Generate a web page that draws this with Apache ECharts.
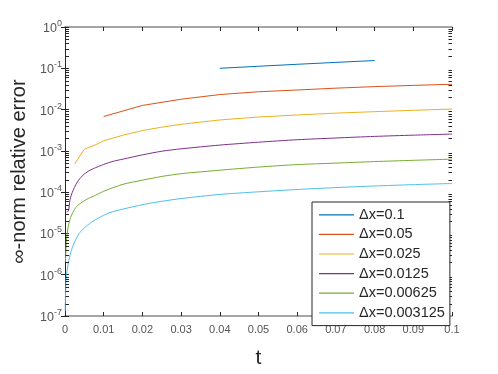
<!DOCTYPE html>
<html style="height: 100%">
<head>
<meta charset="UTF-8">
</head>
<body style="height: 100%; margin: 0; background: #fff">
<div id="container" style="width: 498px; height: 374px"></div>
<script type="text/javascript" src="https://cdn.jsdelivr.net/npm/echarts@6/dist/echarts.min.js"></script>
<script type="text/javascript">
var names = ['\u0394x=0.1', '\u0394x=0.05', '\u0394x=0.025', '\u0394x=0.0125', '\u0394x=0.00625', '\u0394x=0.003125'];
var colors = ['#0072BD', '#D95319', '#EDB120', '#7E2F8E', '#77AC30', '#4DBEEE'];

var t1 = [0.04, 0.05, 0.06, 0.07, 0.08];
var e1 = [0.100, 0.112, 0.125, 0.139, 0.154];

var t2 = [0.01, 0.02, 0.03, 0.04, 0.05, 0.06, 0.07, 0.08, 0.09, 0.1];
var e2 = [0.0068, 0.0126, 0.0178, 0.0231, 0.027, 0.0298, 0.033, 0.036, 0.0385, 0.041];

var t3 = [0.0025, 0.005, 0.0075, 0.01, 0.0125, 0.015, 0.02, 0.025, 0.03, 0.04, 0.05, 0.06, 0.07, 0.08, 0.09, 0.1];
var e3 = [4.8e-4, 1.1e-3, 1.35e-3, 1.75e-3, 2.05e-3, 2.4e-3, 3.1e-3, 3.75e-3, 4.4e-3, 5.6e-3, 6.6e-3, 7.4e-3, 8.2e-3, 8.9e-3, 9.6e-3, 0.0103];

var t4 = [0.0004, 0.0009, 0.0013, 0.0019, 0.0026, 0.0035, 0.0047, 0.006, 0.0073, 0.01, 0.0125, 0.015, 0.02, 0.025, 0.03, 0.04, 0.05, 0.06, 0.07, 0.08, 0.09, 0.1];
var e4 = [3.3e-5, 3.5e-5, 6.6e-5, 1.0e-4, 1.4e-4, 1.95e-4, 2.6e-4, 3.2e-4, 3.7e-4, 4.7e-4, 5.6e-4, 6.3e-4, 8.0e-4, 9.8e-4, 1.12e-3, 1.38e-3, 1.62e-3, 1.86e-3, 2.05e-3, 2.24e-3, 2.4e-3, 2.55e-3];

var t5 = [0.0001, 0.0004, 0.0008, 0.0013, 0.002, 0.003, 0.0045, 0.006, 0.0073, 0.01, 0.015, 0.02, 0.025, 0.03, 0.04, 0.05, 0.06, 0.07, 0.08, 0.09, 0.1];
var e5 = [2.0e-6, 7.4e-6, 1.4e-5, 2.2e-5, 3.2e-5, 4.5e-5, 5.8e-5, 7.0e-5, 7.9e-5, 1.05e-4, 1.55e-4, 1.95e-4, 2.4e-4, 2.8e-4, 3.4e-4, 4.05e-4, 4.65e-4, 5.05e-4, 5.5e-4, 5.9e-4, 6.3e-4];

var t6 = [0.00005, 0.0003, 0.0009, 0.0015, 0.0021, 0.003, 0.0039, 0.0055, 0.0073, 0.0095, 0.0116, 0.016, 0.022, 0.03, 0.04, 0.05, 0.06, 0.07, 0.08, 0.09, 0.1];
var e6 = [1.3e-7, 8.4e-7, 2.0e-6, 3.5e-6, 5.1e-6, 7.8e-6, 1.06e-5, 1.5e-5, 2.0e-5, 2.6e-5, 3.2e-5, 4.1e-5, 5.4e-5, 7.0e-5, 8.8e-5, 1.02e-4, 1.16e-4, 1.29e-4, 1.41e-4, 1.52e-4, 1.62e-4];

var ts = [t1, t2, t3, t4, t5, t6];
var es = [e1, e2, e3, e4, e5, e6];

// log minor ticks 2..9 of every decade
var minorTicks = [];
for (var d = -7; d < 0; d++) {
    for (var k = 2; k <= 9; k++) minorTicks.push([0.05, k * Math.pow(10, d)]);
}

var font = 'Liberation Sans, Arial, sans-serif';
var myChart = echarts.init(document.getElementById('container'));

var series = [];
for (var i = 0; i < names.length; i++) {
    var pts = [];
    for (var j = 0; j < ts[i].length; j++) pts.push([ts[i][j], es[i][j]]);
    series.push({
        name: names[i],
        type: 'line',
        data: pts,
        symbol: 'none',
        smooth: i >= 3 ? 0.25 : false,
        lineStyle: { color: colors[i], width: 1 },
        itemStyle: { color: colors[i] },
        z: 3
    });
}
series.push({
    type: 'custom',
    data: minorTicks,
    silent: true,
    clip: false,
    encode: { x: 0, y: 1 },
    renderItem: function (params, api) {
        var p = api.coord([api.value(0), api.value(1)]);
        var cs = params.coordSys;
        var y = Math.round(p[1]) + 0.5;
        var xl = cs.x + 0.5;
        var xr = cs.x + cs.width;
        return {
            type: 'group',
            children: [
                { type: 'line', shape: { x1: xl, y1: y, x2: xl + 3.5, y2: y }, style: { stroke: '#262626', lineWidth: 1 } },
                { type: 'line', shape: { x1: xr, y1: y, x2: xr - 3.5, y2: y }, style: { stroke: '#262626', lineWidth: 1 } }
            ]
        };
    },
    z: 4
});

var option = {
    animation: false,
    backgroundColor: '#fff',
    grid: { left: 65, top: 27, width: 387, height: 295, containLabel: false },
    legend: {
        data: names,
        orient: 'vertical',
        left: 312,
        top: 202,
        padding: [3, 5, 3, 7],
        itemGap: 0,
        itemWidth: 35,
        itemHeight: 1.2,
        icon: 'rect',
        borderColor: '#262626',
        borderWidth: 1,
        backgroundColor: '#fff',
        textStyle: { fontFamily: font, fontSize: 14.5, color: '#262626', lineHeight: 19.6 },
        z: 10
    },
    xAxis: [
        {
            type: 'value', min: 0, max: 0.1, interval: 0.01, position: 'bottom',
            name: 't', nameLocation: 'middle', nameGap: 32,
            nameTextStyle: { fontFamily: font, fontSize: 21, color: '#262626' },
            axisLine: { lineStyle: { color: '#888', width: 1.5 } },
            axisTick: { inside: true, length: 4, lineStyle: { color: '#262626' } },
            axisLabel: { fontFamily: font, fontSize: 11, color: '#555', margin: 8 },
            splitLine: { show: false }
        },
        {
            type: 'value', min: 0, max: 0.1, interval: 0.01, position: 'top',
            axisLine: { lineStyle: { color: '#888', width: 1.5 } },
            axisTick: { inside: true, length: 4, lineStyle: { color: '#262626' } },
            axisLabel: { show: false },
            splitLine: { show: false }
        }
    ],
    yAxis: [
        {
            type: 'log', logBase: 10, min: 1e-7, max: 1, splitNumber: 7, position: 'left',
            name: '\u221E-norm relative error', nameLocation: 'middle', nameGap: 28,
            nameTextStyle: { fontFamily: font, fontSize: 20, color: '#262626' },
            axisLine: { lineStyle: { color: '#262626', width: 1 } },
            axisTick: { inside: true, length: 4, lineStyle: { color: '#262626' } },
            axisLabel: {
                margin: 3,
                formatter: function (v) {
                    var p = Math.round(Math.log10(v));
                    return '{b|10}{s|' + p + '}';
                },
                rich: {
                    b: { fontFamily: font, fontSize: 12.5, color: '#555', verticalAlign: 'bottom', lineHeight: 16 },
                    s: { fontFamily: font, fontSize: 9, color: '#555', verticalAlign: 'top', lineHeight: 16, padding: [0, 0, 5, 0] }
                }
            },
            splitLine: { show: false }
        },
        {
            type: 'log', logBase: 10, min: 1e-7, max: 1, splitNumber: 7, position: 'right',
            axisLine: { lineStyle: { color: '#262626', width: 1 } },
            axisTick: { inside: true, length: 4, lineStyle: { color: '#262626' } },
            axisLabel: { show: false },
            splitLine: { show: false }
        }
    ],
    series: series
};
myChart.setOption(option);
</script>
</body>
</html>
